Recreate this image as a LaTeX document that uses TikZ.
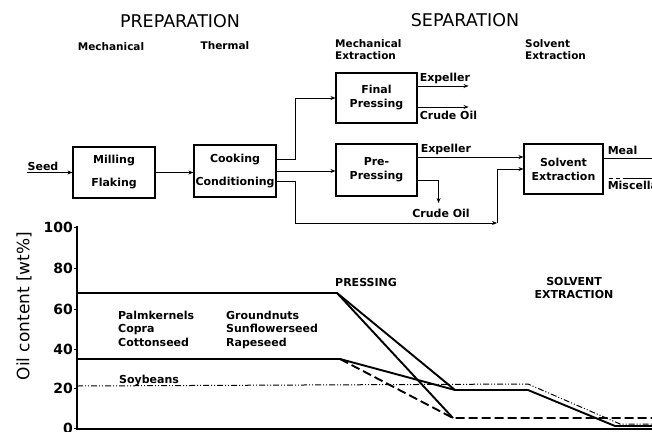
\documentclass[tikz,border=0pt]{standalone}
\usepackage{fontspec}
\setmainfont{DejaVu Sans}
\usetikzlibrary{arrows.meta}
\tikzset{
  pbox/.style={draw, line width=1.1pt, inner sep=0pt, align=center,
    font=\bfseries\fontsize{11}{14}\selectfont},
  arr/.style={line width=1pt, -{Stealth[length=5pt,width=4pt]}},
  conn/.style={line width=1pt},
  lab/.style={inner sep=0pt, font=\bfseries\fontsize{11}{13}\selectfont},
  sublab/.style={inner sep=0pt, font=\bfseries\fontsize{10.5}{12.5}\selectfont, align=left},
  head/.style={inner sep=0pt, font=\fontsize{17.5}{20}\selectfont},
  tick/.style={inner sep=0pt, font=\bfseries\fontsize{14}{16}\selectfont},
  curve/.style={line width=1.9pt},
  ddot/.style={line width=1pt, dash pattern=on 6pt off 2pt on 1pt off 2pt on 1pt off 2pt},
}
\begin{document}
\begin{tikzpicture}[x=1pt,y=-1pt]
\useasboundingbox (0,0) rectangle (652,431);

% headings
\node[head] (hprep) at (180,21) {PREPARATION};
\node[head] (hsep) at (465,20) {SEPARATION};
\node[sublab] (hmech) at (111,47) {Mechanical};
\node[sublab] (htherm) at (225,46) {Thermal};
\node[sublab, anchor=north west] (hmext) at (335,39) {Mechanical\\Extraction};
\node[sublab, anchor=north west] (hsext) at (525,39) {Solvent\\Extraction};

% boxes
\node[pbox, minimum width=82pt, minimum height=51pt] (mill) at (114,172.5) {Milling\\[9pt]Flaking};
\node[pbox, minimum width=82pt, minimum height=52pt] (cook) at (235,171) {Cooking\\[9pt]Conditioning};
\node[pbox, minimum width=81pt, minimum height=50pt] (final) at (376.5,98) {Final\\Pressing};
\node[pbox, minimum width=81pt, minimum height=52pt] (pre) at (376.5,170) {Pre-\\Pressing};
\node[pbox, minimum width=79pt, minimum height=50pt] (solv) at (563.5,169) {Solvent\\Extraction};

% seed
\node[lab] (seed) at (43,166) {Seed};
\coordinate (seedin) at (27,172.5);
\draw[arr] (seedin) -- (mill.west);

% milling -> cooking
\draw[arr] (mill.east) -- (mill.east -| cook.west);

% cooking -> final pressing
\draw[arr] ([yshift=12pt]cook.east) -- ++(19,0) |- (final.west);
% cooking -> pre-pressing
\draw[arr] (cook.east) -- (cook.east -| pre.west);
% cooking -> bypass -> solvent extraction
\coordinate (byp) at (497,223);
\draw[arr] ([yshift=-10pt]cook.east) -- ++(19,0) |- (byp);
\draw[arr] (byp) |- (solv.west);
\node[lab] (co2) at (441,213) {Crude Oil};

% final pressing outputs
\draw[arr] ([yshift=12pt]final.east) -- ++(51,0) coordinate (fexp);
\node[lab, anchor=south west] (fexpl) at ([xshift=2pt,yshift=2pt]final.east |- fexp) {Expeller};
\draw[arr] ([yshift=-9pt]final.east) -- ++(51,0) coordinate (fco);
\node[lab, anchor=north west] (fcol) at ([xshift=2pt,yshift=-4pt]final.east |- fco) {Crude Oil};

% pre-pressing outputs
\draw[arr] ([yshift=13pt]pre.east) -- ([yshift=13pt]pre.east -| solv.west);
\node[lab, anchor=south west] (pexpl) at ([xshift=3pt,yshift=2pt]pre.east |- 0,157) {Expeller};
\draw[arr] ([yshift=-10pt]pre.east) -- ++(21,0) -- ++(0,23) coordinate (pco);

% solvent outputs
\draw[conn] ([yshift=11pt]solv.east) -- ++(60,0) coordinate (meal);
\node[lab, anchor=south west] (meall) at ([xshift=4pt,yshift=3pt]solv.east |- meal) {Meal};
\draw[conn, dash pattern=on 4pt off 3pt on 4pt off 3pt on 40pt off 0pt] ([xshift=5pt,yshift=-9pt]solv.east) -- ++(60,0) coordinate (misc);
\node[lab, anchor=north west] (miscl) at ([xshift=4pt,yshift=-3pt]solv.east |- misc) {Miscella};

% chart axes
\draw[line width=1.3pt] (77,226) -- (77,429) -- (660,429);
\foreach \v/\y in {100/227,80/268,60/309,40/349,20/388,0/428}{
  \draw[line width=1pt] (74,\y) -- (77,\y);
  \node[tick, anchor=east] at (73,\y) {\v};
}
\node[rotate=90, inner sep=0pt, font=\fontsize{17}{19}\selectfont] (ylab) at (24,306) {Oil content [wt\%]};

% chart curves
\draw[curve] (77,293) -- (337,293) -- (455,390) -- (528,390) -- (615,426) -- (660,426);
\draw[curve] (337,293) -- (453,418);
\draw[curve] (77,359) -- (340,359) -- (455,390);
\draw[curve, dash pattern=on 9pt off 4pt] (340,359) -- (453,418) -- (660,418);
\draw[ddot] (77,386) -- (528,384) -- (620,424) -- (660,424);

% chart labels
\node[lab, anchor=base west] (palm) at (118,319) {Palmkernels};
\node[lab, anchor=base west] (copra) at (118,332) {Copra};
\node[lab, anchor=base west] (cotton) at (118,346) {Cottonseed};
\node[lab, anchor=base west] (gnut) at (226,319) {Groundnuts};
\node[lab, anchor=base west] (sunf) at (226,332) {Sunflowerseed};
\node[lab, anchor=base west] (rape) at (226,346) {Rapeseed};
\node[lab, anchor=base west] (soy) at (119,383) {Soybeans};
\node[lab, anchor=west] (press) at (335,282) {PRESSING};
\node[lab, align=center, font=\bfseries\fontsize{11}{13}\selectfont] (sext) at (574,288) {SOLVENT\\EXTRACTION};
\end{tikzpicture}
\end{document}
